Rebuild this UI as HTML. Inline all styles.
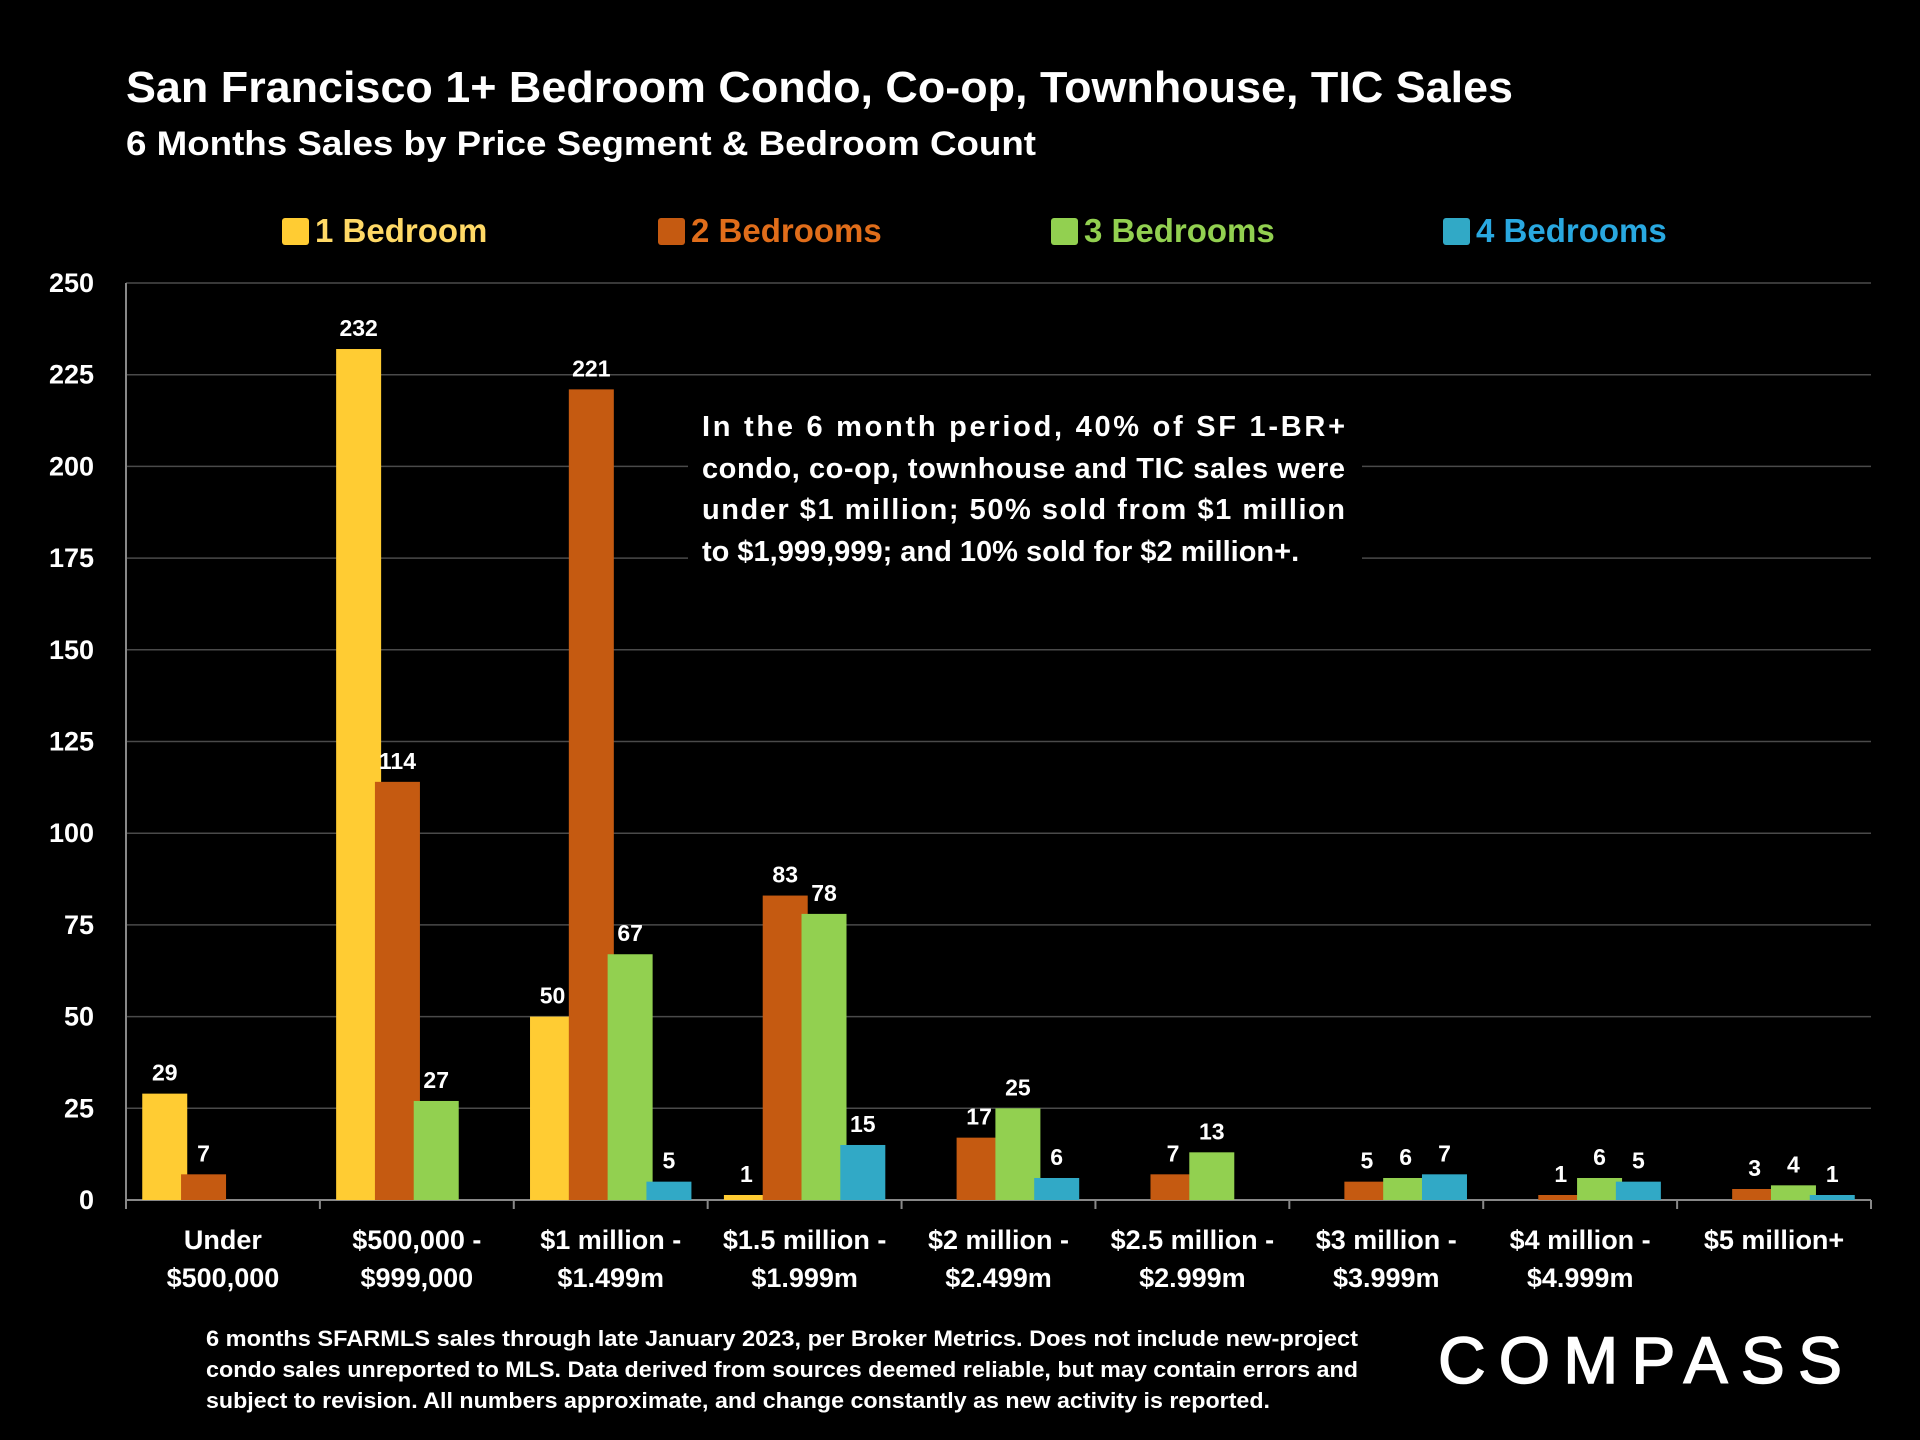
<!DOCTYPE html>
<html><head><meta charset="utf-8"><style>
body{margin:0;background:#000;width:1920px;height:1440px;overflow:hidden;font-family:"Liberation Sans",sans-serif}
svg{display:block}
</style></head><body>
<svg id="c" width="1920" height="1440" xmlns="http://www.w3.org/2000/svg">
<rect width="1920" height="1440" fill="#000"/>
<text x="126" y="102" fill="#fff" font-size="44" font-weight="bold" textLength="1387" lengthAdjust="spacingAndGlyphs">San Francisco 1+ Bedroom Condo, Co-op, Townhouse, TIC Sales</text>
<text x="126" y="155" fill="#fff" font-size="34" font-weight="bold" textLength="910" lengthAdjust="spacingAndGlyphs">6 Months Sales by Price Segment &amp; Bedroom Count</text>
<g id="grid"></g><g id="bars"></g><g id="legend"></g>
<rect x="688" y="396" width="674" height="172" fill="#000"/>
<g font-size="29" font-weight="bold" fill="#fff">
<text x="702" y="436" textLength="643" lengthAdjust="spacing">In the 6 month period, 40% of SF 1-BR+</text>
<text x="702" y="478" textLength="643" lengthAdjust="spacing">condo, co-op, townhouse and TIC sales were</text>
<text x="702" y="519" textLength="643" lengthAdjust="spacing">under $1 million; 50% sold from $1 million</text>
<text x="702" y="561">to $1,999,999; and 10% sold for $2 million+.</text>
</g>
<g font-size="22.5" font-weight="bold" fill="#fff">
<text x="206" y="1346" textLength="1152" lengthAdjust="spacingAndGlyphs">6  months SFARMLS sales through late January 2023, per Broker Metrics. Does not include new-project</text>
<text x="206" y="1377" textLength="1152" lengthAdjust="spacingAndGlyphs">condo sales unreported to MLS. Data derived from sources deemed reliable, but may contain errors and</text>
<text x="206" y="1408" textLength="1064" lengthAdjust="spacingAndGlyphs">subject to revision. All numbers approximate, and change constantly as new activity is reported.</text>
</g>
<text x="1438" y="1383" fill="#fff" font-size="66" textLength="404" lengthAdjust="spacing" stroke="#fff" stroke-width="1.5">COMPASS</text>
</svg>
<script>
const categories=[["Under","$500,000"],["$500,000 -","$999,000"],["$1 million -","$1.499m"],["$1.5 million -","$1.999m"],["$2 million -","$2.499m"],["$2.5 million -","$2.999m"],["$3 million -","$3.999m"],["$4 million -","$4.999m"],["$5 million+",""]];
const seriesNames=["1 Bedroom","2 Bedrooms","3 Bedrooms","4 Bedrooms"];
const oneBed=[29,232,50,1,null,null,null,null,null];
const twoBed=[7,114,221,83,17,7,5,1,3];
const threeBed=[null,27,67,78,25,13,6,6,4];
const fourBed=[null,null,5,15,6,null,7,5,1];
const yTicks=[0,25,50,75,100,125,150,175,200,225,250];
const series=[oneBed,twoBed,threeBed,fourBed];
const colors=["#FFCC33","#C55A11","#92D050","#31A9C6"];
const textColors=["#FFD966","#E06D1A","#92D050","#29A8E0"];
const NS="http://www.w3.org/2000/svg";
const X0=126,X1=1871,Y0=1200,Y1=283,YMAX=250;
const y=v=>Y0-(v/YMAX)*(Y0-Y1);
const cw=(X1-X0)/categories.length;
const step=38.8,bw=45;
function el(t,a,p){const e=document.createElementNS(NS,t);for(const k in a)e.setAttribute(k,a[k]);p.appendChild(e);return e;}
const grid=document.getElementById('grid'),bars=document.getElementById('bars'),leg=document.getElementById('legend');
yTicks.forEach(t=>{
  if(t>0){const l=el('line',{x1:X0,x2:X1,y1:y(t),y2:y(t),stroke:'#4a4a4a','stroke-width':1.5},grid);
  
  }
  const tx=el('text',{x:94,y:y(t)+9,fill:'#fff','font-size':27,'font-weight':'bold','text-anchor':'end'},grid);
  tx.textContent=t;
  
  
});
const ax=el('line',{x1:X0,x2:X1,y1:Y0,y2:Y0,stroke:'#888','stroke-width':2},grid);


const ay=el('line',{x1:X0,x2:X0,y1:Y1,y2:Y0+8,stroke:'#888','stroke-width':2},grid);


for(let i=0;i<=categories.length;i++){
  const tk=el('line',{x1:X0+i*cw,x2:X0+i*cw,y1:Y0,y2:Y0+9,stroke:'#888','stroke-width':2},grid);
  
  
}
categories.forEach((c,i)=>{
  const cx=X0+(i+0.5)*cw;
  c.forEach((line,j)=>{ if(!line)return;
    const t=el('text',{x:cx,y:1249+j*38,fill:'#fff','font-size':27,'font-weight':'bold','text-anchor':'middle'},grid);
    t.textContent=line;
    
    
  });
  series.forEach((s,k)=>{
    const v=s[i]; if(v==null)return;
    const bx=cx-(step*3+bw)/2+k*step;
    const top=Math.min(y(v),Y0-5);
    const r=el('rect',{x:bx,y:top,width:bw,height:Y0-top,fill:colors[k]},bars);
    
    
    const t=el('text',{x:bx+bw/2,y:top-13,fill:'#fff','font-size':23,'font-weight':'bold','text-anchor':'middle'},bars);
    t.textContent=v;
    
    
  });
});
const lx=[282,658,1051,1443];
seriesNames.forEach((n,k)=>{
  const g=el('g',{},leg);
  
  
  el('rect',{x:lx[k],y:218,width:27,height:27,rx:3,fill:colors[k]},g);
  const t=el('text',{x:lx[k]+33,y:242,fill:textColors[k],'font-size':33,'font-weight':'bold'},g);
  t.textContent=n;
});
</script>
</body></html>
